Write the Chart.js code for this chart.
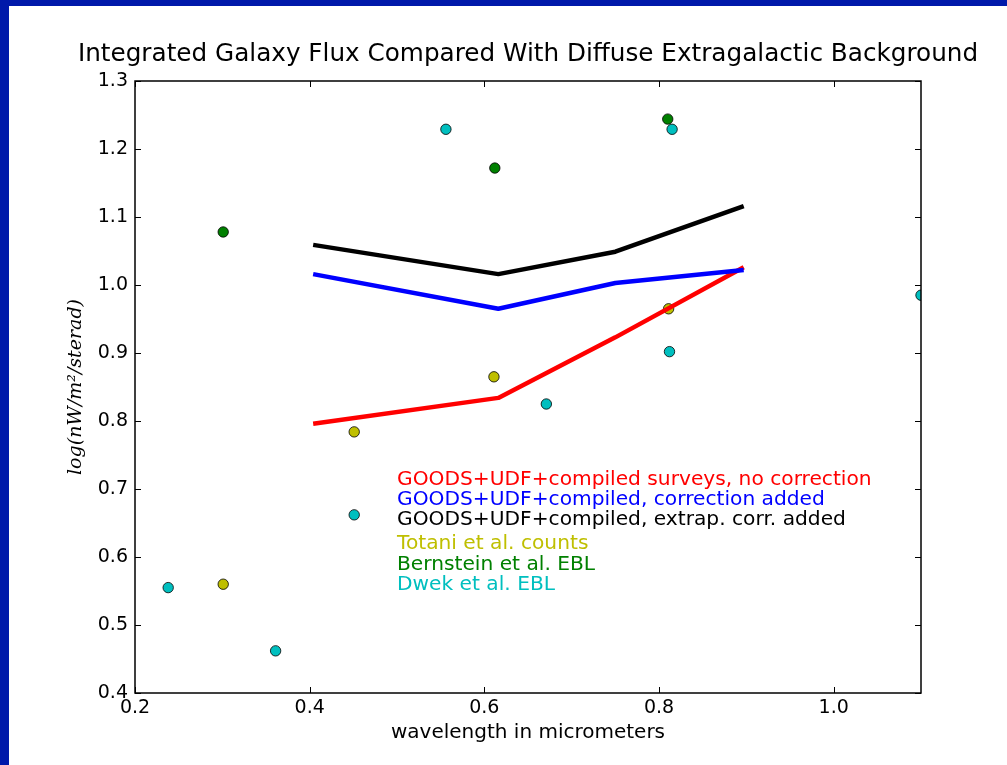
<!DOCTYPE html>
<html>
<head>
<meta charset="utf-8">
<title>Integrated Galaxy Flux</title>
<script src="https://cdn.jsdelivr.net/npm/chart.js@4/dist/chart.umd.min.js"></script>
<style>
  html, body { margin: 0; padding: 0; background: #0019aa; width: 1007px; height: 765px; overflow: hidden; }
  #wrap { position: absolute; left: 9px; top: 6px; width: 998px; height: 759px; background: #fff; }
</style>
</head>
<body>
<div id="wrap"><canvas id="chart" width="998" height="759"></canvas></div>
<script>
// axis ticks
const xTicks = [0.2, 0.4, 0.6, 0.8, 1.0];
const yTicks = [0.4, 0.5, 0.6, 0.7, 0.8, 0.9, 1.0, 1.1, 1.2, 1.3];

// GOODS+UDF integrated counts (micrometers, log nW/m2/sr)
const goodsWave = [0.404, 0.616, 0.75, 0.897];
const noCorrection = [0.796, 0.834, 0.923, 1.026];
const corrAdded = [1.016, 0.965, 1.003, 1.022];
const extrapCorr = [1.059, 1.016, 1.049, 1.116];

// Totani et al. counts
const totaniWave = [0.301, 0.451, 0.611, 0.811];
const totaniFlux = [0.560, 0.784, 0.865, 0.965];

// Bernstein et al. EBL
const bernsteinWave = [0.301, 0.612, 0.810];
const bernsteinFlux = [1.078, 1.172, 1.244];

// Dwek et al. EBL
const dwekWave = [0.238, 0.361, 0.451, 0.556, 0.671, 0.812, 0.815, 1.1];
const dwekFlux = [0.555, 0.462, 0.662, 1.229, 0.825, 0.902, 1.229, 0.985];

const titleText = "Integrated Galaxy Flux Compared With Diffuse Extragalactic Background";

// text labels inside the plot (x, y in data units)
const labels = [
  { text: "GOODS+UDF+compiled surveys, no correction", color: "#ff0000", x: 0.5, y: 0.706 },
  { text: "GOODS+UDF+compiled, correction added", color: "#0000ff", x: 0.5, y: 0.676 },
  { text: "GOODS+UDF+compiled, extrap. corr. added", color: "#000000", x: 0.5, y: 0.647 },
  { text: "Totani et al. counts", color: "#bfbf00", x: 0.5, y: 0.612 },
  { text: "Bernstein et al. EBL", color: "#008000", x: 0.5, y: 0.581 },
  { text: "Dwek et al. EBL", color: "#00bfbf", x: 0.5, y: 0.551 },
];

const toPoints = (xs, ys) => xs.map((x, i) => ({ x: x, y: ys[i] }));

const lineSet = (data, color, order) => ({
  data: data,
  showLine: true,
  borderColor: color,
  borderWidth: 4.5,
  borderJoinStyle: "round",
  pointRadius: 0,
  clip: 0,
  order: order,
});

const dotSet = (data, color, order) => ({
  data: data,
  showLine: false,
  backgroundColor: color,
  borderColor: "#000",
  borderWidth: 0.8,
  pointRadius: 5.2,
  clip: 0,
  order: order,
});

// frame with inward ticks on all four sides, title over the axes, colored labels
const frameTicks = {
  id: "frameTicks",
  afterDatasetsDraw(chart) {
    const { ctx, chartArea: a, scales } = chart;
    const len = 6;
    ctx.save();
    ctx.strokeStyle = "#000";
    ctx.lineWidth = 1;
    ctx.beginPath();
    xTicks.forEach((v) => {
      const px = Math.round(scales.x.getPixelForValue(v)) + 0.5;
      ctx.moveTo(px, a.bottom); ctx.lineTo(px, a.bottom - len);
      ctx.moveTo(px, a.top); ctx.lineTo(px, a.top + len);
    });
    yTicks.forEach((v) => {
      const py = Math.round(scales.y.getPixelForValue(v)) + 0.5;
      ctx.moveTo(a.left, py); ctx.lineTo(a.left + len, py);
      ctx.moveTo(a.right, py); ctx.lineTo(a.right - len, py);
    });
    ctx.stroke();
    ctx.lineWidth = 1.5;
    ctx.strokeRect(a.left, a.top, a.right - a.left, a.bottom - a.top);

    ctx.fillStyle = "#000";
    ctx.font = "24.7px 'DejaVu Sans'";
    ctx.textAlign = "center";
    ctx.textBaseline = "middle";
    ctx.fillText(titleText, (a.left + a.right) / 2, a.top - 26);

    ctx.font = "20.2px 'DejaVu Sans'";
    ctx.textAlign = "left";
    ctx.textBaseline = "alphabetic";
    labels.forEach((l) => {
      ctx.fillStyle = l.color;
      ctx.fillText(l.text, scales.x.getPixelForValue(l.x), scales.y.getPixelForValue(l.y));
    });
    ctx.restore();
  },
};

Chart.defaults.color = "#000";
Chart.defaults.font.family = "'DejaVu Sans'";

new Chart(document.getElementById("chart"), {
  type: "scatter",
  data: {
    datasets: [
      lineSet(toPoints(goodsWave, extrapCorr), "#000000", 1),
      lineSet(toPoints(goodsWave, corrAdded), "#0000ff", 2),
      lineSet(toPoints(goodsWave, noCorrection), "#ff0000", 3),
      dotSet(toPoints(dwekWave, dwekFlux), "#00bfbf", 4),
      dotSet(toPoints(bernsteinWave, bernsteinFlux), "#008000", 5),
      dotSet(toPoints(totaniWave, totaniFlux), "#bfbf00", 6),
    ],
  },
  options: {
    responsive: false,
    animation: false,
    devicePixelRatio: 1,
    layout: { padding: { left: 0, right: 86, top: 75, bottom: 0 } },
    plugins: {
      legend: { display: false },
      tooltip: { enabled: false },
      title: { display: false },
    },
    scales: {
      x: {
        type: "linear",
        min: 0.2,
        max: 1.1,
        afterBuildTicks: (s) => { s.ticks = xTicks.map((v) => ({ value: v })); },
        afterFit: (s) => { s.height = 72; },
        grid: { display: false, drawTicks: false },
        border: { display: false },
        ticks: { padding: 4, font: { size: 19 }, callback: (v) => v.toFixed(1) },
        title: {
          display: true,
          text: "wavelength in micrometers",
          font: { size: 20 },
          padding: { top: 0, bottom: 20 },
        },
      },
      y: {
        type: "linear",
        min: 0.4,
        max: 1.3,
        afterBuildTicks: (s) => { s.ticks = yTicks.map((v) => ({ value: v })); },
        afterFit: (s) => { s.width = 126; },
        grid: { display: false, drawTicks: false },
        border: { display: false },
        ticks: { padding: 7, font: { size: 19 }, callback: (v) => v.toFixed(1) },
        title: {
          display: true,
          text: "log(nW/m²/sterad)",
          font: { family: "'DejaVu Serif'", style: "italic", size: 19 },
          padding: { top: 55.6, bottom: 0 },
        },
      },
    },
  },
  plugins: [frameTicks],
});
</script>
</body>
</html>
